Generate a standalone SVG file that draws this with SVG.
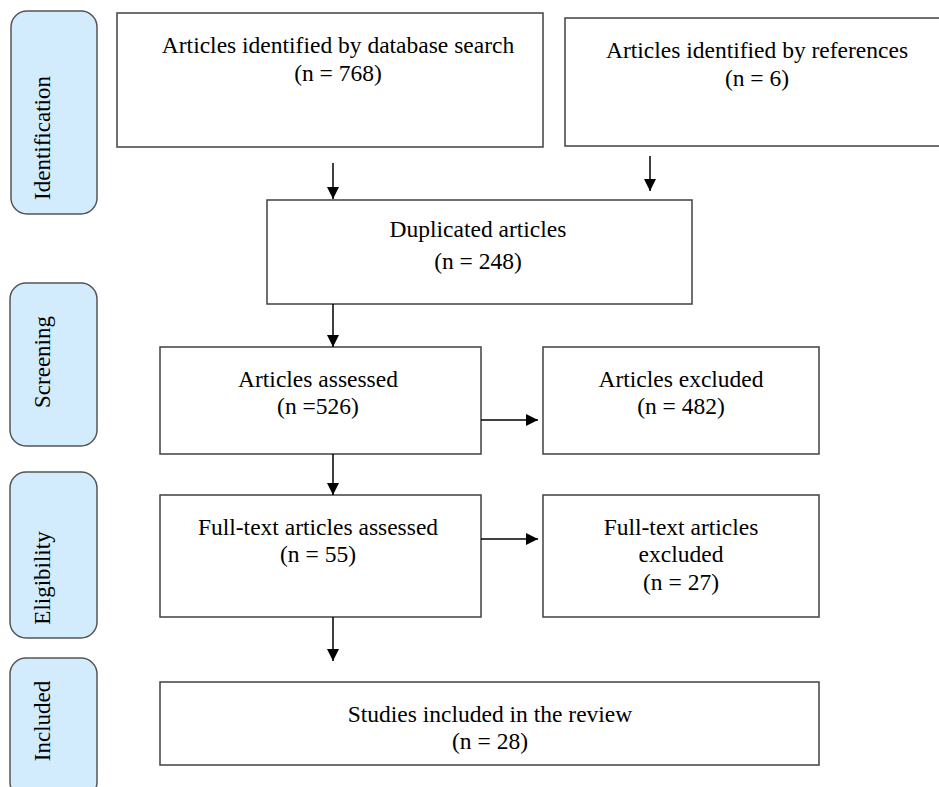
<svg xmlns="http://www.w3.org/2000/svg" width="939" height="787" viewBox="0 0 939 787">
<style>
.box{fill:#fff;stroke:#404040;stroke-width:1.5}
.side{fill:#D3ECFD;stroke:#555;stroke-width:1.5}
text{font-family:"Liberation Serif","Times New Roman",serif;font-size:23.5px;fill:#000;text-anchor:middle}
.side-label{font-size:23px}
.conn line{stroke:#000;stroke-width:1.5}
</style>
<defs>
<marker id="ah" markerWidth="12" markerHeight="12" refX="12" refY="6" orient="auto" markerUnits="userSpaceOnUse">
<path d="M0,0 L12,6 L0,12 Z" fill="#000"/>
</marker>
</defs>
<g id="side-identification"><rect class="side" x="11" y="11" width="86" height="203" rx="16"/><text class="side-label" transform="translate(50,138) rotate(-90)">Identification</text></g>
<g id="side-screening"><rect class="side" x="10" y="283" width="87" height="163" rx="16"/><text class="side-label" transform="translate(50,362) rotate(-90)">Screening</text></g>
<g id="side-eligibility"><rect class="side" x="10" y="472" width="87" height="166" rx="16"/><text class="side-label" transform="translate(50,578) rotate(-90)">Eligibility</text></g>
<g id="side-included"><rect class="side" x="10" y="658" width="87" height="140" rx="16"/><text class="side-label" transform="translate(50,721) rotate(-90)">Included</text></g>

<g id="db-search"><rect class="box" x="117" y="13" width="426" height="134"/><text x="338" y="53">Articles identified by database search</text><text x="338" y="81">(n = 768)</text></g>
<g id="references"><rect class="box" x="565" y="18" width="380" height="128"/><text x="757" y="58">Articles identified by references</text><text x="757" y="86">(n = 6)</text></g>
<g id="duplicated"><rect class="box" x="267" y="200" width="425" height="104"/><text x="478" y="237">Duplicated articles</text><text x="478" y="269">(n = 248)</text></g>
<g id="assessed"><rect class="box" x="160" y="347" width="321" height="107"/><text x="318" y="387">Articles assessed</text><text x="318" y="414">(n =526)</text></g>
<g id="excluded"><rect class="box" x="543" y="347" width="276" height="107"/><text x="681" y="387">Articles excluded</text><text x="681" y="414">(n = 482)</text></g>
<g id="fulltext-assessed"><rect class="box" x="160" y="495" width="321" height="122"/><text x="318" y="535">Full-text articles assessed</text><text x="318" y="562">(n = 55)</text></g>
<g id="fulltext-excluded"><rect class="box" x="543" y="495" width="276" height="122"/><text x="681" y="535">Full-text articles</text><text x="681" y="562">excluded</text><text x="681" y="590">(n = 27)</text></g>
<g id="included"><rect class="box" x="160" y="682" width="659" height="83"/><text x="490" y="722">Studies included in the review</text><text x="490" y="749">(n = 28)</text></g>

<g id="connectors" class="conn">
<line x1="333" y1="163" x2="333" y2="199" marker-end="url(#ah)"/>
<line x1="650" y1="156" x2="650" y2="191" marker-end="url(#ah)"/>
<line x1="333" y1="304" x2="333" y2="347" marker-end="url(#ah)"/>
<line x1="333" y1="454" x2="333" y2="495" marker-end="url(#ah)"/>
<line x1="481" y1="420" x2="538" y2="420" marker-end="url(#ah)"/>
<line x1="481" y1="539" x2="538" y2="539" marker-end="url(#ah)"/>
<line x1="333" y1="617" x2="333" y2="661" marker-end="url(#ah)"/>
</g>
</svg>
